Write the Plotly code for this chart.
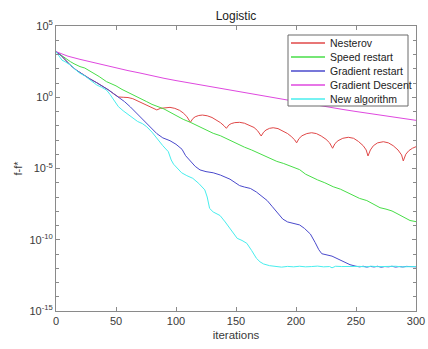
import plotly.graph_objects as go

# ---- data (log10 of f - f*) ----
gd_x = [0, 5, 10, 20, 30, 40, 50, 60, 70, 80, 90, 100, 110, 120, 130, 140, 150, 160, 170, 180,
        190, 200, 210, 220, 230, 240, 250, 260, 270, 280, 290, 300]
gd_log = [3.2, 3.02, 2.88, 2.66, 2.45, 2.25, 2.05, 1.87, 1.7, 1.5, 1.33, 1.17, 1.02, 0.87, 0.72, 0.55,
          0.42, 0.28, 0.13, -0.02, -0.16, -0.30, -0.44, -0.60, -0.74, -0.87, -1.0, -1.12, -1.25, -1.38,
          -1.50, -1.62]

gr_x = [0, 4, 8, 12, 17, 23, 28, 34, 39, 44, 48, 52, 57, 62, 67, 73, 78, 84, 89, 95, 100, 105, 108,
        112, 116, 120, 125, 131, 137, 145, 150, 153, 157, 162, 167, 172, 176, 180, 185, 189, 193, 198,
        203, 207, 212, 216, 219, 221.5, 226, 230, 235, 240, 245, 250, 253, 256, 259, 262, 265, 268,
        271, 274, 277, 280, 283, 286, 289, 292, 295, 298, 300]
gr_log = [3.2, 2.95, 2.6, 2.25, 1.9, 1.55, 1.3, 1.02, 0.78, 0.5, 0.25, 0.02, -0.3, -0.68, -1.1, -1.6,
          -2.05, -2.55, -2.85, -3.05, -3.3, -3.65, -4.1, -4.5, -4.85, -5.1, -5.22, -5.3, -5.46, -5.75,
          -6.05, -6.2, -6.3, -6.4, -6.65, -6.95, -7.25, -7.65, -8.15, -8.55, -8.75, -8.85, -8.96, -9.2,
          -9.6, -10.2, -10.7, -10.98, -11.05, -11.15, -11.35, -11.55, -11.75, -11.86, -11.9, -11.86,
          -11.92, -11.87, -11.91, -11.86, -11.93, -11.88, -11.9, -11.86, -11.92, -11.88, -11.91,
          -11.87, -11.9, -11.88, -11.9]

nes_x = [0, 4, 8, 12, 17, 23, 28, 34, 39, 44, 48, 52, 56, 60, 64, 68, 72, 76, 80, 84, 87, 91, 95,
         99, 103, 106, 109, 112, 114, 116, 119, 122, 126, 130, 134, 137, 140, 142, 144, 146, 149,
         153, 157, 161, 165, 168, 170, 171, 173, 175, 178, 181, 185, 189, 193, 196, 199, 200.5,
         202.5, 205, 209, 213, 217, 221, 225, 228, 230.5, 232.5, 235, 239, 243.6, 248, 252, 256,
         258.5, 260, 262, 264.5, 268, 272.8, 277, 281, 285, 288, 289.4, 291.5, 294, 297, 300]
nes_log = [3.2, 2.95, 2.6, 2.25, 1.9, 1.55, 1.3, 1.02, 0.78, 0.5, 0.25, 0.02, 0.0, -0.02, -0.1,
           -0.25, -0.42, -0.6, -0.75, -0.89, -0.78, -0.72, -0.71, -0.78, -0.92, -1.1, -1.35, -1.76,
           -1.5, -1.37, -1.28, -1.25, -1.3, -1.42, -1.6, -1.78, -2.0, -2.18, -1.95, -1.85, -1.78,
           -1.76, -1.82, -1.95, -2.12, -2.35, -2.55, -2.72, -2.45, -2.3, -2.18, -2.14, -2.2, -2.35,
           -2.55, -2.75, -3.0, -3.2, -2.9, -2.7, -2.55, -2.49, -2.55, -2.72, -2.95, -3.2, -3.58,
           -3.25, -3.05, -2.88, -2.81, -2.88, -3.1, -3.4, -3.7, -4.12, -3.7, -3.4, -3.2, -3.12,
           -3.2, -3.4, -3.7, -4.05, -4.47, -4.0, -3.75, -3.58, -3.47]

sr_x = [0, 4, 8, 12, 15, 20, 24, 27, 31, 36, 42, 46, 50, 55, 59, 64, 70, 75.6, 80, 85, 90, 95, 100,
        106, 112, 118, 124, 131, 137, 144, 150.5, 157, 163, 168, 172.8, 178, 184, 189.4, 195, 203,
        208, 212, 218, 224, 231, 237, 243, 248, 253, 259, 265, 270, 275, 280, 285, 290, 295, 300]
sr_log = [3.2, 2.95, 2.7, 2.5, 2.35, 2.15, 2.05, 1.91, 1.7, 1.45, 1.1, 0.95, 0.8, 0.55, 0.39, 0.2,
          -0.05, -0.31, -0.5, -0.65, -0.82, -1.05, -1.3, -1.55, -1.76, -2.0, -2.25, -2.53, -2.7, -3.0,
          -3.23, -3.5, -3.7, -3.9, -4.05, -4.25, -4.5, -4.64, -4.82, -5.08, -5.4, -5.58, -5.8, -6.0,
          -6.28, -6.45, -6.7, -6.95, -7.1, -7.25, -7.5, -7.75, -7.85, -7.98, -8.2, -8.45, -8.65, -8.73]

na_x = [0, 3, 5, 7.5, 10, 13, 16, 20, 24, 28, 31, 34, 38, 42, 45, 48, 52, 56, 60, 64, 68, 72, 75.6,
        80, 85, 89, 93.6, 96, 98, 101, 104.7, 109, 114, 119, 124, 126, 128, 131, 136.7, 141, 145,
        148, 151, 155, 159, 163, 167, 170, 173, 178, 183, 188, 193, 198, 203, 208, 213, 218, 223,
        228, 230, 233, 238, 243, 248, 253, 258, 263, 268, 273, 278, 283, 288, 293, 298, 300]
na_log = [3.2, 2.85, 2.6, 2.5, 2.35, 2.2, 1.95, 1.68, 1.5, 1.25, 1.1, 0.86, 0.7, 0.51, 0.2, -0.2,
          -0.66, -0.95, -1.2, -1.48, -1.7, -1.85, -2.07, -2.45, -3.0, -3.4, -3.82, -4.4, -4.7, -5.0,
          -5.3, -5.5, -5.69, -6.05, -6.5, -7.0, -7.8, -8.05, -8.3, -8.75, -9.2, -9.6, -9.9, -10.05,
          -10.25, -10.75, -11.3, -11.55, -11.7, -11.82, -11.89, -11.92, -11.87, -11.9, -11.86, -11.9,
          -11.88, -11.85, -11.9, -11.88, -11.97, -11.86, -11.88, -11.86, -11.88, -11.87, -11.9,
          -11.86, -11.89, -11.87, -11.9, -11.86, -11.9, -11.87, -11.89, -11.88]

y_tick_vals = [1e5, 1e0, 1e-5, 1e-10, 1e-15]
y_tick_text = ["10<sup>5</sup>", "10<sup>0</sup>", "10<sup>-5</sup>", "10<sup>-10</sup>", "10<sup>-15</sup>"]
x_tick_vals = [0, 50, 100, 150, 200, 250, 300]

series = [
    ("Nesterov", nes_x, nes_log, "#e04848"),
    ("Speed restart", sr_x, sr_log, "#48de48"),
    ("Gradient restart", gr_x, gr_log, "#4a4acc"),
    ("Gradient Descent", gd_x, gd_log, "#df48df"),
    ("New algorithm", na_x, na_log, "#48eeee"),
]

W, H = 428, 349
L, R, T, B = 56, 12, 26, 38
PW, PH = W - L - R, H - T - B


def px_x(p):
    return (p - L) / PW


def px_y(p):
    return (H - B - p) / PH


fig = go.Figure()
for name, xs, ls, col in series:
    fig.add_trace(go.Scatter(x=xs, y=[10 ** v for v in ls], mode="lines", name=name,
                             line=dict(color=col, width=1), showlegend=False, hoverinfo="skip"))

# ---- legend box drawn as layout decoration (MATLAB-style compact legend) ----
shapes = [dict(type="rect", xref="paper", yref="paper", x0=px_x(288), x1=px_x(408),
               y0=px_y(106), y1=px_y(35), line=dict(color="#6a6a6a", width=1),
               fillcolor="white", layer="above")]
annotations = []
for i, (name, xs, ls, col) in enumerate(series):
    yc = px_y(43 + 14 * i)
    shapes.append(dict(type="line", xref="paper", yref="paper", x0=px_x(291), x1=px_x(325),
                       y0=yc, y1=yc, line=dict(color=col, width=1.5), layer="above"))
    annotations.append(dict(text=name, xref="paper", yref="paper", x=px_x(327.5), y=yc,
                            xanchor="left", yanchor="middle", showarrow=False,
                            font=dict(size=10.5, color="#222")))

axcol = "#8a8a8a"
font = "Liberation Sans, Arial, sans-serif"
fig.update_layout(
    width=W, height=H,
    margin=dict(l=L, r=R, t=T, b=B),
    paper_bgcolor="white", plot_bgcolor="white",
    font=dict(family=font, size=11, color="#3a3a3a"),
    title=dict(text="Logistic", x=0.5, xref="paper", y=1 - 15.5 / H, yref="container",
               xanchor="center", yanchor="middle", font=dict(size=12, color="#222")),
    showlegend=False,
    hovermode=False,
    shapes=shapes,
    annotations=annotations,
)
fig.update_xaxes(range=[0, 300], tickvals=x_tick_vals, ticks="inside", ticklen=4,
                 showline=True, linecolor=axcol, linewidth=1, mirror="ticks", tickcolor=axcol,
                 showgrid=False, zeroline=False, automargin=False,
                 title=dict(text="iterations", standoff=4, font=dict(size=11.5, color="#3a3a3a")))
fig.update_yaxes(type="log", range=[-15, 5], tickvals=y_tick_vals, ticktext=y_tick_text,
                 ticks="inside", ticklen=4, showline=True, linecolor=axcol, linewidth=1,
                 mirror="ticks", tickcolor=axcol, showgrid=False, zeroline=False, automargin=False,
                 minor=dict(tickvals=[10.0 ** k for k in range(-14, 5)], ticks="inside", ticklen=3,
                            tickcolor=axcol, showgrid=False),
                 title=dict(text="f-f*", standoff=4, font=dict(size=11, color="#3a3a3a")))

fig.write_html("out.html", config={"displayModeBar": False, "staticPlot": True},
               post_script="document.body.style.margin='0';document.body.style.overflow='hidden';")
